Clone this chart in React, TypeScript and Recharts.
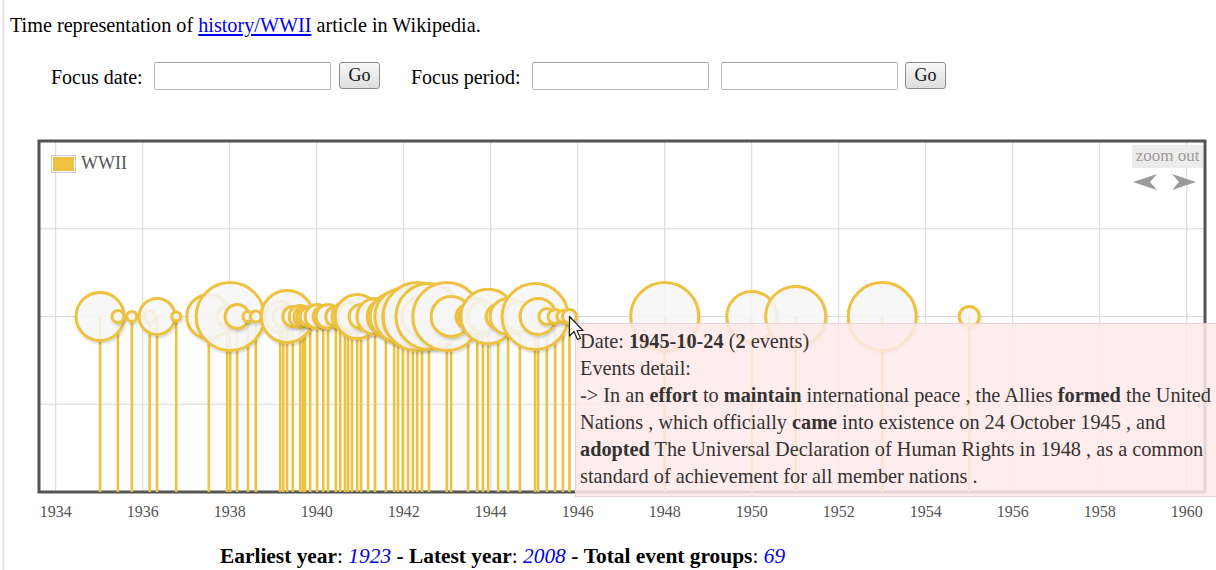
import React from 'react';
import {
  ComposedChart,
  Scatter,
  XAxis,
  YAxis,
  ZAxis,
  CartesianGrid,
  ReferenceLine,
  ReferenceArea,
  Legend,
} from 'recharts';

// ---------- data ----------
const seriesName = 'WWII';

// event-group dates (decimal years) shown in the visible window
const eventYears = [
  1935.02, 1935.43, 1935.75, 1936.16, 1936.33, 1936.77, 1937.52, 1937.94, 1938.01, 1938.17,
  1938.42, 1938.6, 1939.16, 1939.23, 1939.32, 1939.45, 1939.62, 1939.68, 1939.73, 1939.85,
  1940.01, 1940.15, 1940.26, 1940.44, 1940.54, 1940.65, 1940.72, 1940.81, 1940.93, 1941.02,
  1941.18, 1941.34, 1941.59, 1941.78, 1941.87, 1941.98, 1942.1, 1942.21, 1942.31, 1942.42,
  1942.58, 1942.99, 1943.09, 1943.48, 1943.69, 1943.82, 1943.94, 1944.17, 1944.4, 1944.67,
  1945.02, 1945.09, 1945.29, 1945.48, 1945.66, 1945.81, 1948.0, 1950.0, 1951.01, 1953.0,
  1955.0,
];

// relative weight of each event group (bubble area)
const eventWeights = [
  50, 3.1, 2.2, 3.1, 28, 1.8, 42, 8.7, 100, 12.5,
  2.2, 2.6, 19.5, 8.7, 58.5, 8.7, 10.5, 7, 5.5, 8.7,
  12.5, 8.7, 12.5, 8.7, 5.5, 12.5, 22, 17, 42, 12.5,
  8.7, 28, 30, 50, 34.6, 68, 19.5, 78, 100, 34.6,
  94, 100, 34.6, 12.5, 28, 19.5, 64, 12.5, 28, 19.5,
  94, 28, 5.5, 4.2, 3.1, 4.2, 100, 54, 78, 100,
  8.7,
];

const bubbleLevel = 2;
const baseLevel = 0;
const xTicks = [1934, 1936, 1938, 1940, 1942, 1944, 1946, 1948, 1950, 1952, 1954, 1956, 1958, 1960];
const yTicks = [0, 1, 2, 3, 4];
const xDomain: [number, number] = [1933.616, 1960.42];
const yDomain: [number, number] = [0, 4];
const weightDomain: [number, number] = [0, 100];

const tooltipDate = '1945-10-24';
const tooltipEventCount = 2;
const earliestYear = 1923;
const latestYear = 2008;
const totalEventGroups = 69;

const data = eventYears.map((year, i) => ({
  year,
  level: bubbleLevel,
  weight: eventWeights[i],
}));

// ---------- styles ----------
const GOLD = '#edc240';
const SERIF = '"Liberation Serif", "Times New Roman", serif';
const MAX_R = 34;

const Bubble = (props: any) => {
  const { cx, cy, size } = props;
  if (cx == null || cy == null) return null;
  const r = Math.sqrt(Math.max(size || 0, 0) / Math.PI);
  return (
    <circle
      cx={cx}
      cy={cy}
      r={r}
      fill="#f8f8f8"
      fillOpacity={0.86}
      stroke={GOLD}
      strokeWidth={3}
      filter="url(#bubbleShadow)"
    />
  );
};

const LegendContent = () => (
  <div style={{ display: 'flex', alignItems: 'center', fontFamily: SERIF }}>
    <div style={{ border: '1px solid #cccccc', padding: 1, width: 21, height: 14, boxSizing: 'content-box' }}>
      <div style={{ width: 21, height: 14, background: GOLD }} />
    </div>
    <span style={{ marginLeft: 5, fontSize: 18, color: '#545454', lineHeight: '19px' }}>{seriesName}</span>
  </div>
);

const abs = (left: number, top: number, extra: React.CSSProperties = {}): React.CSSProperties => ({
  position: 'absolute',
  left,
  top,
  ...extra,
});

const inputBox = (left: number): React.CSSProperties =>
  abs(left, 62, {
    width: 175,
    height: 26,
    border: '1px solid #b8b8b8',
    borderTopColor: '#a0a0a0',
    background: '#fff',
    borderRadius: 2,
  });

const goButton = (left: number): React.CSSProperties =>
  abs(left, 62, {
    width: 39,
    height: 25,
    border: '1px solid #8c8c8c',
    borderRadius: 3,
    background: 'linear-gradient(#f7f7f7, #dedede)',
    fontFamily: SERIF,
    fontSize: 18,
    lineHeight: '25px',
    textAlign: 'center',
    color: '#111',
  });

export default function App() {
  return (
    <div
      style={{
        position: 'absolute',
        left: 0,
        top: 0,
        width: 1216,
        height: 570,
        overflow: 'hidden',
        background: '#fff',
        fontFamily: SERIF,
        color: '#000',
      }}
    >
      {/* faint page edge */}
      <div style={abs(2, 0, { width: 3, height: 570, background: 'linear-gradient(90deg, #f4f4f4, #e6e6e6, #f8f8f8)' })} />

      {/* header */}
      <div style={abs(10, 15, { fontSize: 20.2, lineHeight: '20px', whiteSpace: 'nowrap' })}>
        Time representation of{' '}
        <span style={{ color: '#0000ee', textDecoration: 'underline' }}>history/WWII</span> article in Wikipedia.
      </div>

      {/* focus controls */}
      <div style={abs(51, 67, { fontSize: 20, lineHeight: '20px', whiteSpace: 'nowrap' })}>Focus date:</div>
      <div style={inputBox(154)} />
      <div style={goButton(339)}>Go</div>
      <div style={abs(411, 67, { fontSize: 20, lineHeight: '20px', whiteSpace: 'nowrap' })}>Focus period:</div>
      <div style={inputBox(532)} />
      <div style={inputBox(721)} />
      <div style={goButton(905)}>Go</div>

      {/* chart */}
      <div style={abs(0, 0)}>
        <ComposedChart
          width={1216}
          height={540}
          data={data}
          margin={{ top: 141, right: 11, bottom: 18, left: 39 }}
        >
          <defs>
            <filter id="bubbleShadow" x="-30%" y="-30%" width="170%" height="170%">
              <feDropShadow dx="1" dy="2" stdDeviation="1.2" floodColor="#000" floodOpacity="0.16" />
            </filter>
          </defs>
          <CartesianGrid stroke="#d9d9d9" strokeWidth={1} />
          <XAxis
            type="number"
            dataKey="year"
            domain={xDomain}
            ticks={xTicks}
            interval={0}
            allowDataOverflow
            axisLine={false}
            tickLine={false}
            height={30}
            tickMargin={8}
            tick={{ fontFamily: SERIF, fontSize: 16, fill: '#545454' }}
          />
          <YAxis type="number" dataKey="level" domain={yDomain} ticks={yTicks} hide width={0} />
          <ZAxis type="number" dataKey="weight" domain={weightDomain} range={[0, Math.PI * MAX_R * MAX_R]} />
          {data.map((d, i) => (
            <ReferenceLine
              key={`stem-${i}`}
              segment={[
                { x: d.year, y: baseLevel },
                { x: d.year, y: d.level },
              ]}
              stroke={GOLD}
              strokeWidth={2.6}
            />
          ))}
          <Scatter
            name={seriesName}
            dataKey="level"
            fill={GOLD}
            stroke={GOLD}
            shape={Bubble}
            isAnimationActive={false}
          />
          <ReferenceArea
            x1={xDomain[0]}
            x2={xDomain[1]}
            y1={yDomain[0]}
            y2={yDomain[1]}
            fill="none"
            fillOpacity={0}
            stroke="#545454"
            strokeWidth={3}
          />
          <Legend
            layout="horizontal"
            verticalAlign="middle"
            align="center"
            content={LegendContent}
            wrapperStyle={{ left: 51, top: 154, width: 'auto', height: 'auto' }}
          />
        </ComposedChart>
      </div>

      {/* zoom out control */}
      <div
        style={abs(1132, 145, {
          width: 71,
          height: 23,
          background: '#ececec',
          color: '#a09a9a',
          fontSize: 17,
          lineHeight: '22px',
          textAlign: 'center',
          whiteSpace: 'nowrap',
        })}
      >
        zoom out
      </div>
      <svg style={abs(1133, 174)} width={66} height={17}>
        <path d="M0,8 L24,0 L17,8 L24,16 Z" fill="#9a9a9a" />
        <path d="M63,8 L39,0 L46,8 L39,16 Z" fill="#9a9a9a" />
      </svg>

      {/* hover tooltip */}
      <div
        style={abs(575, 323, {
          width: 700,
          height: 168,
          background: 'rgba(255, 233, 233, 0.86)',
          border: '1px solid #ead3d3',
          padding: '4px 0 0 4px',
          boxSizing: 'content-box',
          fontSize: 20.3,
          lineHeight: '27px',
          color: '#333',
          whiteSpace: 'nowrap',
        })}
      >
        Date: <b>{tooltipDate}</b> (<b>{tooltipEventCount}</b> events)
        <br />
        Events detail:
        <br />
        -&gt; In an <b>effort</b> to <b>maintain</b> international peace , the Allies <b>formed</b> the United
        <br />
        Nations , which officially <b>came</b> into existence on 24 October 1945 , and
        <br />
        <b>adopted</b> The Universal Declaration of Human Rights in 1948 , as a common
        <br />
        standard of achievement for all member nations .
      </div>

      {/* mouse cursor */}
      <svg style={abs(568, 315)} width={20} height={28}>
        <path
          d="M1.5,1.5 L1.5,21 L6,16.5 L9.5,24.5 L12.5,23.2 L9,15.5 L15,15.5 Z"
          fill="#fff"
          stroke="#222"
          strokeWidth={1.2}
          strokeLinejoin="round"
        />
      </svg>

      {/* footer */}
      <div style={abs(220, 546, { fontSize: 21.4, lineHeight: '20px', whiteSpace: 'nowrap' })}>
        <b>Earliest year</b>: <i style={{ color: '#0000ee' }}>{earliestYear}</i> <b>-</b> <b>Latest year</b>:{' '}
        <i style={{ color: '#0000ee' }}>{latestYear}</i> <b>-</b> <b>Total event groups</b>:{' '}
        <i style={{ color: '#0000ee' }}>{totalEventGroups}</i>
      </div>
    </div>
  );
}
